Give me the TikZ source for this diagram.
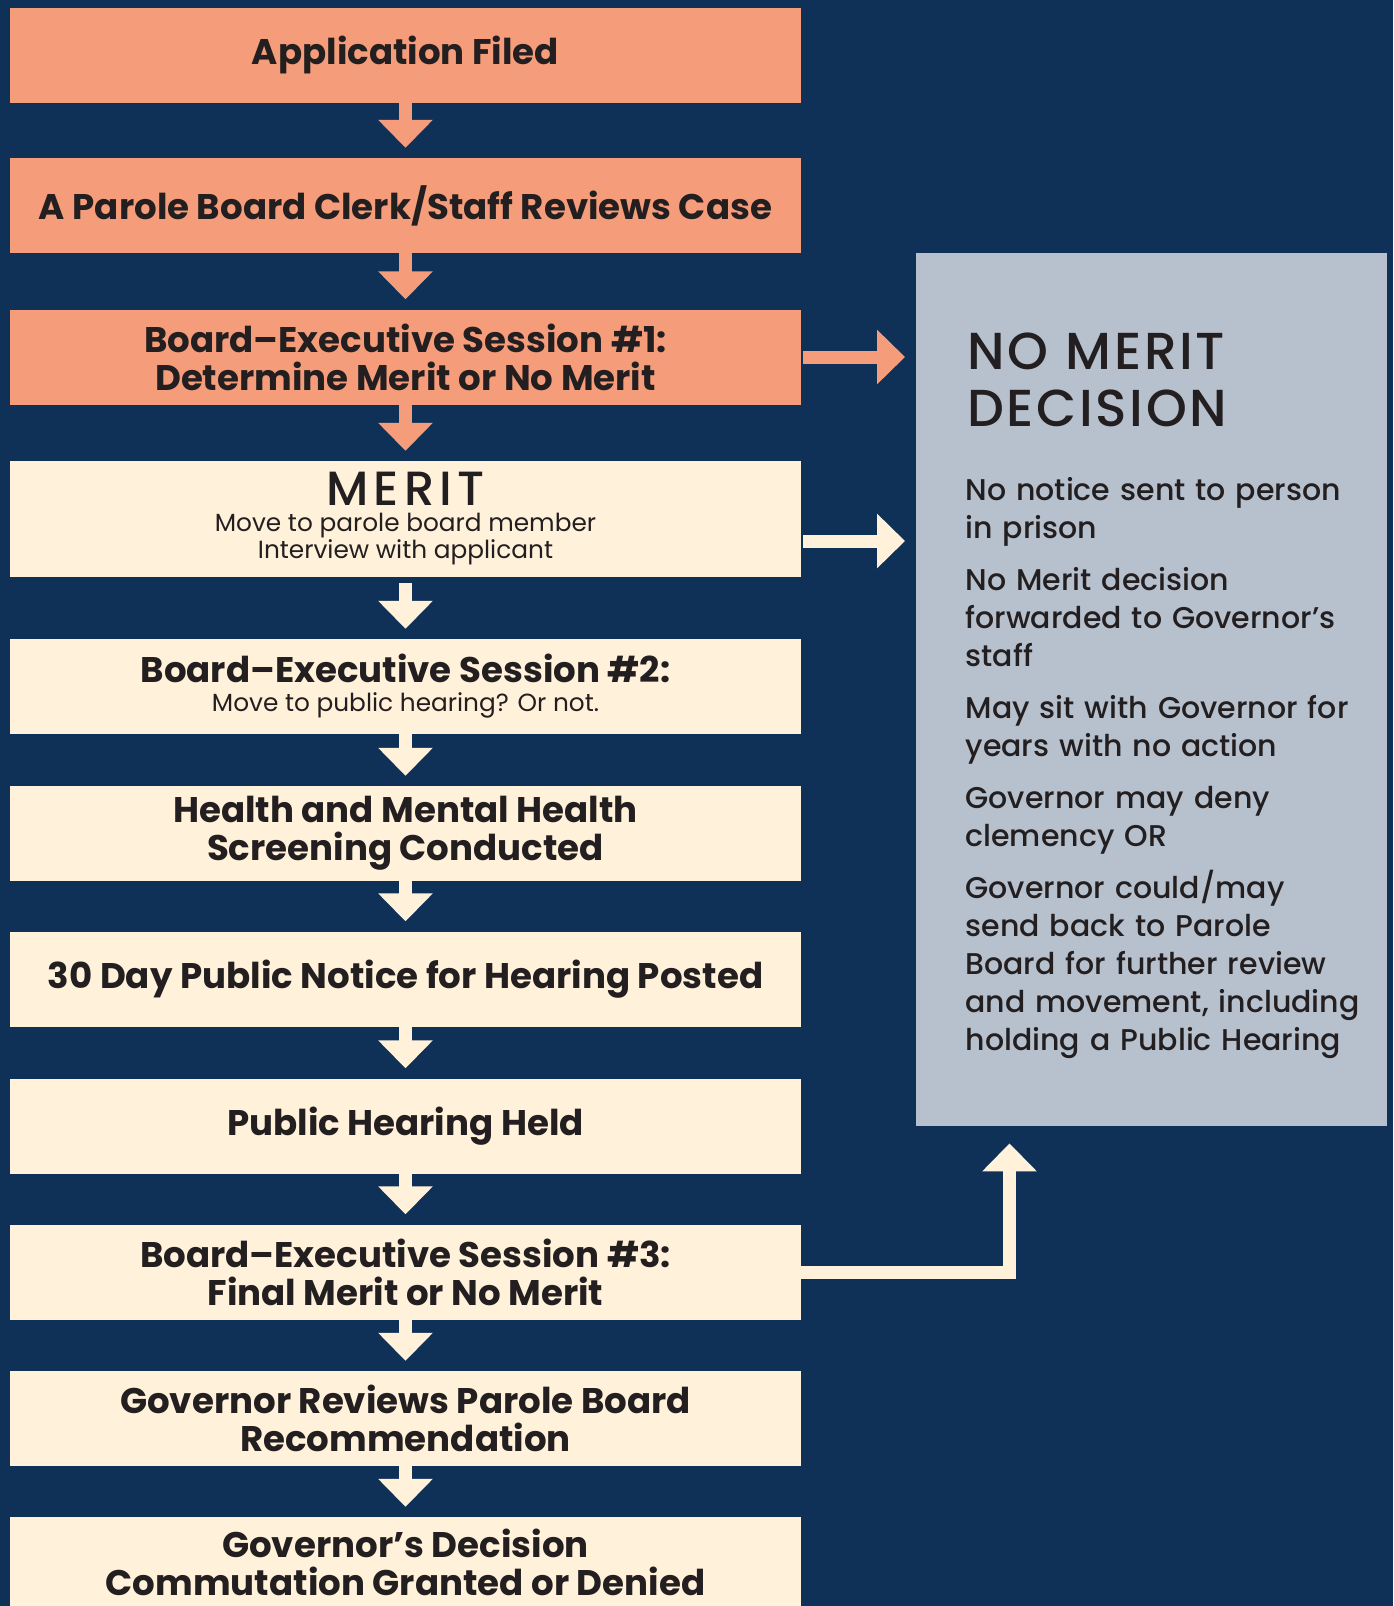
\documentclass[tikz,border=0pt]{standalone}
\usepackage{fontspec}
\setmainfont{Poppins}[BoldFont={Poppins Bold}]
\newfontfamily\medfont{Poppins Medium}
\newfontfamily\headfont{Poppins Medium}[LetterSpace=5]
\newfontfamily\meritfont{Poppins Medium}[LetterSpace=11]
\usetikzlibrary{arrows.meta,positioning}
\definecolor{navy}{HTML}{0F3157}
\definecolor{salmon}{HTML}{F59D7A}
\definecolor{cream}{HTML}{FFF1DA}
\definecolor{slate}{HTML}{B7C1CE}
\definecolor{ink}{HTML}{231F20}
\newcommand{\smalltxt}{\mdseries\fontsize{24.8}{27.5}\selectfont}
\begin{document}
\begin{tikzpicture}[x=1pt,y=-1pt,
  stepbox/.style={rectangle, inner sep=0pt, minimum width=791pt, minimum height=95pt,
    align=center, text=ink, font=\fontsize{35.6}{38}\selectfont\bfseries},
  hotbox/.style={stepbox, fill=salmon},
  calmbox/.style={stepbox, fill=cream},
  flow/.style={line width=13pt, -{Triangle[length=28pt,width=53pt]}, shorten >=10pt},
  panetext/.style={anchor=base west, text width=420pt, align=left, text=ink}]
\useasboundingbox (0,0) rectangle (1393,1606);
\fill[navy] (0,0) rectangle (1393,1606);

% left column
\node[hotbox] (filed) at (405.5,55) {Application Filed};
\node[hotbox] (clerk) at (405.5,205.5) {A Parole Board Clerk/Staff Reviews Case};
\node[hotbox] (exec1) at (405.5,357) {Board–Executive Session \#1:\\Determine Merit or No Merit};
\node[calmbox, minimum height=116pt, font=\smalltxt] (merit) at (405.5,519)
  {{\meritfont\fontsize{48}{40}\selectfont MERIT}\\[-2pt]Move to parole board member\\Interview with applicant};
\node[calmbox] (exec2) at (405.5,686.5)
  {Board–Executive Session \#2:\\[-9pt]{\smalltxt Move to public hearing? Or not.}};
\node[calmbox] (screen) at (405.5,833.5) {Health and Mental Health\\Screening Conducted};
\node[calmbox] (notice) at (405.5,979) {30 Day Public Notice for Hearing Posted};
\node[calmbox] (hearing) at (405.5,1126) {Public Hearing Held};
\node[calmbox] (exec3) at (405.5,1272) {Board–Executive Session \#3:\\Final Merit or No Merit};
\node[calmbox] (review) at (405.5,1418.5) {Governor Reviews Parole Board\\Recommendation};
\node[calmbox, minimum height=90pt] (decision) at (405.5,1562) {Governor’s Decision\\Commutation Granted or Denied};

% down arrows
\foreach \a/\b in {filed/clerk, clerk/exec1, exec1/merit}
  \draw[flow, salmon] (\a) -- (\b);
\draw[flow, cream, shorten <=6pt] (merit) -- (exec2);
\foreach \a/\b in {exec2/screen, screen/notice, notice/hearing, hearing/exec3, exec3/review, review/decision}
  \draw[flow, cream] (\a) -- (\b);

% no merit panel
\node[fill=slate, inner sep=0pt, minimum width=471pt, minimum height=873pt, anchor=north west] (panel) at (916,253) {};
\node[panetext, font=\headfont\fontsize{52}{57}\selectfont] (nmhead) at (964,369) {NO MERIT\\DECISION};
\node[panetext, font=\medfont\fontsize{30}{38}\selectfont] (nmbody) at (962,500)
  {No notice sent to person\\in prison\\[14pt]
   No Merit decision\\forwarded to Governor’s\\staff\\[14pt]
   May sit with Governor for\\years with no action\\[14pt]
   Governor may deny\\clemency OR\\[14pt]
   Governor could/may\\send back to Parole\\Board for further review\\and movement, including\\holding a Public Hearing};

% side arrows
\coordinate (meritout) at ([yshift=-22pt]merit.east);
\coordinate (backup) at ([xshift=93.5pt]panel.south west);
\draw[flow, salmon, shorten <=2pt, shorten >=11pt] (exec1) -- (exec1 -| panel.west);
\draw[flow, cream, shorten <=2pt, shorten >=11pt] (meritout) -- (meritout -| panel.west);
\draw[flow, cream, line join=miter, shorten >=17pt] (exec3) -| (backup);
\end{tikzpicture}
\end{document}
